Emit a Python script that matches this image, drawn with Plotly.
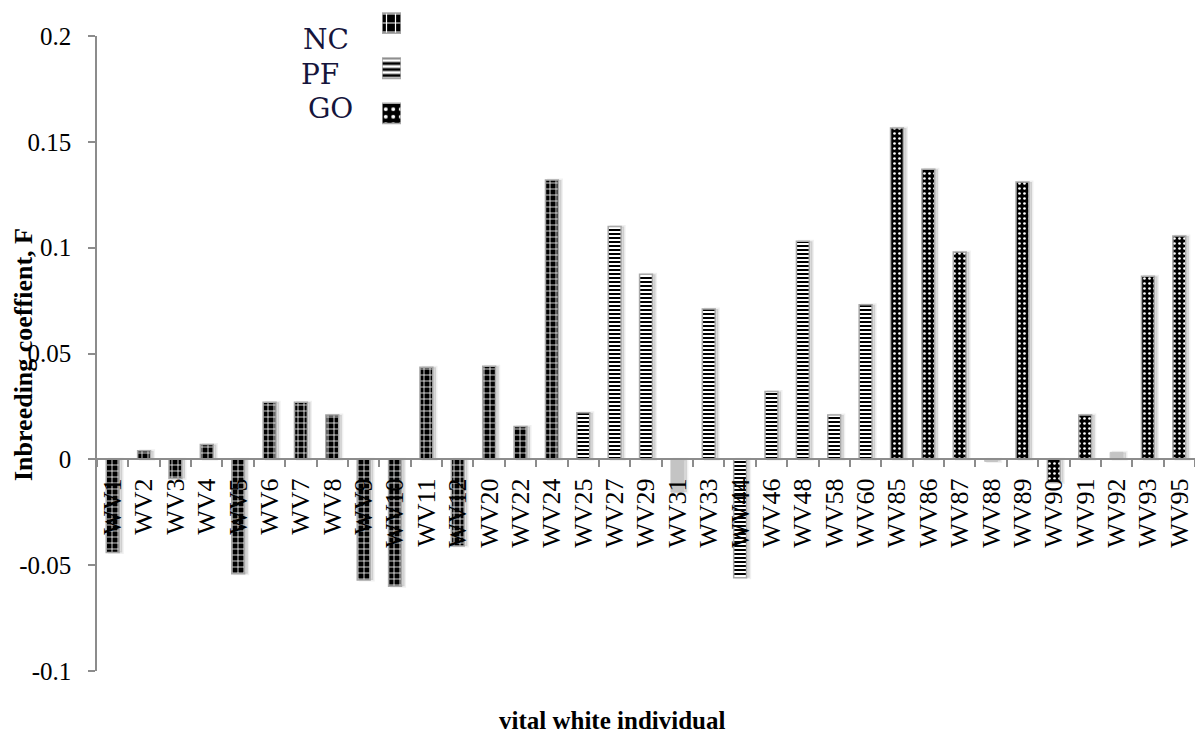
import plotly.graph_objects as go

# Inbreeding coefficient F per vital white individual
categories = ["WV1", "WV2", "WV3", "WV4", "WV5", "WV6", "WV7", "WV8", "WV9", "WV10",
              "WV11", "WV12", "WV20", "WV22", "WV24", "WV25", "WV27", "WV29", "WV31", "WV33",
              "WV44", "WV46", "WV48", "WV58", "WV60", "WV85", "WV86", "WV87", "WV88", "WV89",
              "WV90", "WV91", "WV92", "WV93", "WV95"]
f_values = [-0.044, 0.004, -0.009, 0.007, -0.054, 0.027, 0.027, 0.021, -0.057, -0.060,
            0.0435, -0.041, 0.044, 0.0155, 0.132, 0.022, 0.110, 0.0875, -0.0155, 0.071,
            -0.056, 0.032, 0.103, 0.021, 0.073, 0.1565, 0.137, 0.098, -0.001, 0.131,
            -0.011, 0.021, 0.0033, 0.0865, 0.1055]
groups = ["NC"] * 15 + ["PF", "PF", "PF", "", "PF", "PF", "PF", "PF", "PF", "PF"] + \
         ["GO", "GO", "GO", "", "GO", "GO", "GO", "", "GO", "GO"]

legend_groups = ["NC", "PF", "GO"]
y_tick_vals = [0.2, 0.15, 0.1, 0.05, 0, -0.05, -0.1]
y_tick_text = ["0.2", "0.15", "0.1", "0.05", "0", "-0.05", "-0.1"]
y_range = [-0.1, 0.2]

SERIF = "Liberation Serif, Times New Roman, serif"
AXIS_GREY = "#8c8c8c"
EDGE_GREY = "#a8a8a8"

# layout frame in pixels: paper spans x L..R, y 0..B; main plot area starts at y=T
L, R, T, B = 97, 1195, 36, 671

def px_x(px):
    return (px - L) / (R - L)

def px_y(py):
    return 1 - py / B

patterns = {
    "NC": dict(shape="+", bgcolor="black", fgcolor="white", size=6, solidity=0.25, fillmode="replace"),
    "PF": dict(shape="-", bgcolor="white", fgcolor="black", size=4, solidity=0.5, fillmode="replace"),
    "GO": dict(shape=".", bgcolor="black", fgcolor="white", size=5, solidity=0.22, fillmode="replace"),
}

BAR_W = 0.41

fig = go.Figure()

def subset(label):
    xs = [c for c, g in zip(categories, groups) if g == label]
    ys = [v for v, g in zip(f_values, groups) if g == label]
    return xs, ys

# soft drop shadow behind every bar
fig.add_trace(go.Bar(
    x=categories, y=f_values, width=BAR_W, offset=-BAR_W / 2 + 0.1,
    showlegend=False, hoverinfo="skip",
    marker=dict(color="rgba(0,0,0,0.13)", line=dict(color="rgba(0,0,0,0.06)", width=3)),
))

# plain grey bars without a group pattern
xs, ys = subset("")
fig.add_trace(go.Bar(
    x=xs, y=ys, width=BAR_W, showlegend=False,
    marker=dict(color="#c4c4c4", line=dict(color="#c4c4c4", width=1)),
))

for label in legend_groups:
    xs, ys = subset(label)
    fig.add_trace(go.Bar(
        x=xs, y=ys, width=BAR_W, name=label, showlegend=False,
        marker=dict(color="white", pattern=patterns[label],
                    line=dict(color=EDGE_GREY, width=1.5)),
    ))

# legend keys: one short patterned bar per group on a small inset axis
key_patterns = {k: dict(v, size=v["size"] * 1.5) for k, v in patterns.items()}
fig.add_trace(go.Bar(
    x=[1] * len(legend_groups), y=legend_groups, orientation="h", width=0.45,
    xaxis="x2", yaxis="y2", showlegend=False, hoverinfo="skip",
    marker=dict(color="white",
                pattern=dict(shape=[key_patterns[g]["shape"] for g in legend_groups],
                             bgcolor=[key_patterns[g]["bgcolor"] for g in legend_groups],
                             fgcolor=[key_patterns[g]["fgcolor"] for g in legend_groups],
                             size=[key_patterns[g]["size"] for g in legend_groups],
                             solidity=[key_patterns[g]["solidity"] for g in legend_groups],
                             fillmode="replace"),
                line=dict(color=EDGE_GREY, width=1.5)),
))

main_top = px_y(T)
zero_pos = main_top * (0 - y_range[0]) / (y_range[1] - y_range[0])

fig.update_layout(
    width=1195, height=738,
    margin=dict(l=L, r=1195 - R, t=0, b=738 - B, autoexpand=False),
    paper_bgcolor="white", plot_bgcolor="rgba(0,0,0,0)",
    barmode="overlay",
    font=dict(family=SERIF, color="black"),
    xaxis=dict(
        type="category", categoryorder="array", categoryarray=categories,
        anchor="free", position=zero_pos,
        showline=True, linecolor=AXIS_GREY, linewidth=1.5,
        ticks="outside", tickson="boundaries", ticklen=7, tickcolor=AXIS_GREY, tickwidth=1.5,
        tickangle=-90, tickfont=dict(family=SERIF, size=26, color="black"),
        ticklabelstandoff=8,
        showgrid=False, zeroline=False,
    ),
    yaxis=dict(
        domain=[0, main_top],
        range=y_range, tickvals=y_tick_vals, ticktext=y_tick_text,
        showline=True, linecolor=AXIS_GREY, linewidth=1.5,
        ticks="outside", ticklen=7, tickcolor=AXIS_GREY, tickwidth=1.5,
        tickfont=dict(family=SERIF, size=25, color="black"),
        ticklabelstandoff=12,
        showgrid=False, zeroline=False,
    ),
    xaxis2=dict(domain=[px_x(382), px_x(401)], anchor="y2", range=[0, 1],
                visible=False, fixedrange=True),
    yaxis2=dict(domain=[px_y(136), px_y(0.5)], anchor="x2", type="category",
                categoryorder="array", categoryarray=legend_groups[::-1],
                visible=False, fixedrange=True),
    showlegend=False,
)

annotations = [
    dict(text="<b>Inbreeding coeffient, F</b>", x=23, y=355, textangle=-90, size=26),
    dict(text="<b>vital white individual</b>", x=612, y=721, textangle=0, size=25),
]
for a in annotations:
    fig.add_annotation(
        text=a["text"], xref="paper", yref="paper",
        x=px_x(a["x"]), y=px_y(a["y"]),
        xanchor="center", yanchor="middle", textangle=a["textangle"],
        showarrow=False, font=dict(family=SERIF, size=a["size"], color="black"),
    )

legend_text_pos = {"NC": (326, 40), "PF": (320, 75), "GO": (330, 108)}
for label in legend_groups:
    px, py = legend_text_pos[label]
    fig.add_annotation(
        text=label, xref="paper", yref="paper",
        x=px_x(px), y=px_y(py),
        xanchor="center", yanchor="middle", showarrow=False,
        font=dict(family="DejaVu Serif, serif", size=28, color="#15153c"),
    )

fig.write_html("out.html")
